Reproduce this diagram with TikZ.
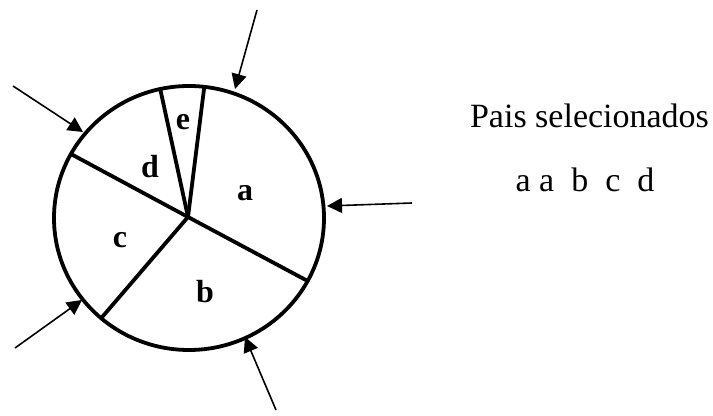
\documentclass[tikz,border=0pt]{standalone}
\usepackage{fontspec}
\setmainfont{Liberation Serif}
\usetikzlibrary{arrows.meta}
\begin{document}
\begin{tikzpicture}[x=0.5pt,y=-0.5pt,
  rim/.style={line width=1.9pt},
  spoke/.style={line width=1.9pt},
  pointer/.style={line width=0.8pt,-{Triangle[length=7.5pt,width=7.5pt]}},
  lbl/.style={font=\fontsize{16}{19}\selectfont\bfseries, inner sep=0pt},
  txt/.style={font=\fontsize{17}{20}\selectfont, anchor=base, inner sep=0pt}]
\useasboundingbox (0,0) rectangle (713,416);
\coordinate (C) at (189,218);
\coordinate (O) at (188,217);
\draw[rim] (C) ellipse [x radius=135, y radius=132];
\path (C) ++(-102.3:135 and 132) coordinate (s1);
\path (C) ++(-83.5:135 and 132) coordinate (s2);
\path (C) ++(28.5:135 and 132) coordinate (s3);
\path (C) ++(130.6:135 and 132) coordinate (s4);
\path (C) ++(209:135 and 132) coordinate (s5);
\foreach \s in {s1,s2,s3,s4,s5} \draw[spoke, line cap=round] (O) -- (\s);
\node[lbl] (le) at (183,122) {e};
\node[lbl] (ld) at (150,167) {d};
\node[lbl] (la) at (245,193) {a};
\node[lbl] (lc) at (120,240) {c};
\node[lbl] (lb) at (205,292) {b};
% arrows
\coordinate (t1) at (235,89);  \coordinate (f1) at (257,10);
\coordinate (t2) at (83,132);  \coordinate (f2) at (13,86);
\coordinate (t3) at (327,206); \coordinate (f3) at (412,203);
\coordinate (t4) at (82,300);  \coordinate (f4) at (15,348);
\coordinate (t5) at (245,337); \coordinate (f5) at (276,410);
\foreach \i in {1,...,5} \draw[pointer] (f\i) -- (t\i);
\node[txt] (title) at (589.5,128) {Pais selecionados};
\node[txt] (list) at (585,192) {a a~~b~~c~~d};
\end{tikzpicture}
\end{document}
